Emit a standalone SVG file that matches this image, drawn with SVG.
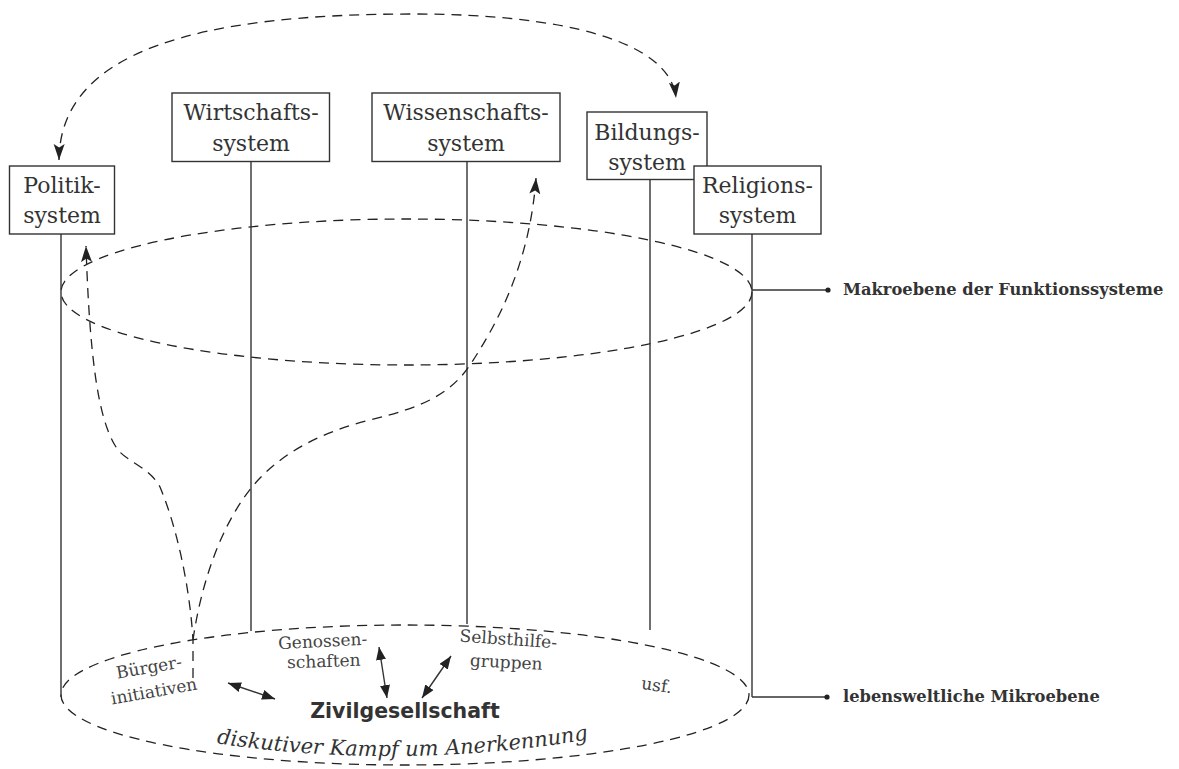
<svg xmlns="http://www.w3.org/2000/svg" width="1179" height="769" viewBox="0 0 1179 769">
<style>
.box{fill:#fff;stroke:#333;stroke-width:1.4}
.ln{fill:none;stroke:#333;stroke-width:1.4}
.ds{fill:none;stroke:#222;stroke-width:1.3;stroke-dasharray:10 7}
.lbl{font-family:"DejaVu Serif",serif;font-size:22px;fill:#333;text-anchor:middle}
.sm{font-family:"DejaVu Serif",serif;font-size:17px;fill:#444;text-anchor:middle}
.side{font-family:"DejaVu Serif",serif;font-size:16.3px;font-weight:bold;fill:#333}
.zg{font-family:"DejaVu Sans",sans-serif;font-size:20.5px;font-weight:bold;fill:#333;text-anchor:middle}
.dk{font-family:"DejaVu Serif",serif;font-size:21px;font-style:italic;fill:#333;text-anchor:middle}
</style>
<defs>
<marker id="ah" markerUnits="userSpaceOnUse" markerWidth="17" markerHeight="12" refX="16" refY="5.5" orient="auto-start-reverse" viewBox="0 0 17 11">
<path d="M0,0 L16,5.5 L0,11 L3.5,5.5 z" fill="#222"/>
</marker>
<marker id="sh" markerUnits="userSpaceOnUse" markerWidth="14" markerHeight="10" refX="13" refY="5" orient="auto-start-reverse" viewBox="0 0 14 10">
<path d="M0,0 L13,5 L0,10 z" fill="#222"/>
</marker>
<path id="arcText" d="M 208,742 Q 400,772 597,738"/>
</defs>

<g id="levels">
<ellipse class="ds" cx="406.5" cy="292" rx="345.5" ry="73"/>
<ellipse class="ds" cx="405" cy="695" rx="344" ry="70"/>
</g>

<g id="connectors">
<line class="ln" x1="61" y1="234" x2="61" y2="697"/>
<line class="ln" x1="251" y1="161.5" x2="251" y2="631"/>
<line class="ln" x1="467" y1="161.5" x2="467" y2="624"/>
<line class="ln" x1="650" y1="179.5" x2="650" y2="630"/>
<line class="ln" x1="752" y1="234" x2="752" y2="697"/>
<line class="ln" x1="752" y1="290" x2="828" y2="290"/>
<circle cx="828" cy="290" r="2.6" fill="#222"/>
<line class="ln" x1="752" y1="697" x2="827" y2="697"/>
<circle cx="827" cy="697" r="2.6" fill="#222"/>
<path class="ds" d="M 59,160 C 60,50 200,14 413,14 C 560,14 670,40 676,98" marker-start="url(#ah)" marker-end="url(#ah)"/>
<path class="ds" d="M 193,678 L 193,640 C 190,590 178,530 160,487 C 150,468 128,462 118,450 C 100,425 90,370 86,246" marker-end="url(#ah)"/>
<path class="ds" d="M 193,640 C 200,590 220,520 260,478 C 290,447 330,430 370,420 C 420,408 450,395 470,365 C 500,320 530,260 536,178" marker-end="url(#ah)"/>
<line class="ln" x1="228" y1="683" x2="275" y2="699" marker-start="url(#sh)" marker-end="url(#sh)"/>
<line class="ln" x1="379" y1="647" x2="387" y2="698" marker-start="url(#sh)" marker-end="url(#sh)"/>
<line class="ln" x1="451" y1="656" x2="422" y2="698" marker-start="url(#sh)" marker-end="url(#sh)"/>
</g>

<g id="politik">
<rect class="box" x="9.5" y="166" width="105" height="68"/>
<text class="lbl" x="62" y="193">Politik-</text>
<text class="lbl" x="62" y="223">system</text>
</g>
<g id="wirtschaft">
<rect class="box" x="172" y="93" width="157.5" height="68.5"/>
<text class="lbl" x="251" y="120">Wirtschafts-</text>
<text class="lbl" x="251" y="151">system</text>
</g>
<g id="wissenschaft">
<rect class="box" x="372" y="93" width="188" height="68.5"/>
<text class="lbl" x="466" y="120">Wissenschafts-</text>
<text class="lbl" x="466" y="151">system</text>
</g>
<g id="bildung">
<rect class="box" x="587" y="112" width="120" height="67.5"/>
<text class="lbl" x="647" y="140">Bildungs-</text>
<text class="lbl" x="647" y="170">system</text>
</g>
<g id="religion">
<rect class="box" x="694" y="166" width="127" height="68"/>
<text class="lbl" x="757.5" y="193">Religions-</text>
<text class="lbl" x="757.5" y="223">system</text>
</g>

<g id="side-labels">
<text class="side" x="843" y="295">Makroebene der Funktionssysteme</text>
<text class="side" x="843" y="702">lebensweltliche Mikroebene</text>
</g>

<g id="civil">
<text class="sm" transform="rotate(-10 150 673)" x="150" y="673">Bürger-</text>
<text class="sm" transform="rotate(-10 155 697)" x="155" y="697">initiativen</text>
<text class="sm" transform="rotate(-3 323 647)" x="323" y="647">Genossen-</text>
<text class="sm" transform="rotate(-2 324 667)" x="324" y="667">schaften</text>
<text class="sm" transform="rotate(4 508 645)" x="508" y="645">Selbsthilfe-</text>
<text class="sm" transform="rotate(3 506 668)" x="506" y="668">gruppen</text>
<text class="sm" transform="rotate(8 656 691)" x="656" y="691">usf.</text>
<text class="zg" x="405" y="718">Zivilgesellschaft</text>
<text class="dk"><textPath href="#arcText" startOffset="50%">diskutiver Kampf um Anerkennung</textPath></text>
</g>
</svg>
